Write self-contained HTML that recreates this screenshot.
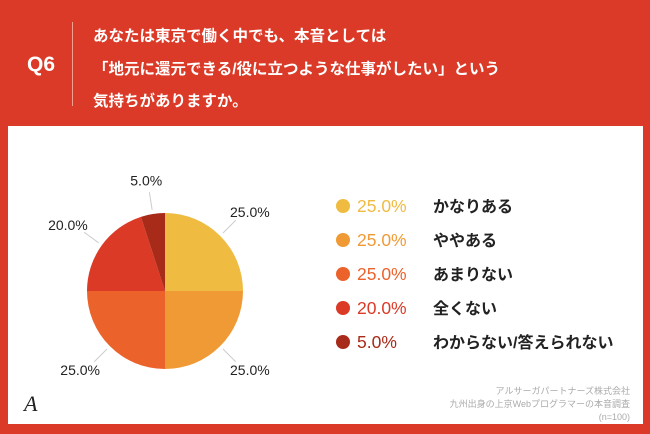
<!DOCTYPE html>
<html><head><meta charset="utf-8"><style>
body{margin:0;width:650px;height:434px;background:#da3a27;position:relative;overflow:hidden;font-family:"Liberation Sans","Noto Sans CJK JP",sans-serif}
.t{position:absolute;color:#fff}
</style></head><body>
<div class="t" style="left:27px;top:53px;font-size:21px;font-weight:bold">Q6</div>
<div style="position:absolute;left:72px;top:22px;width:1px;height:84px;background:#f1a090"></div>
<div class="t" style="left:93px;top:21px;font-size:15.5px;line-height:32.5px;font-weight:bold">あなたは東京で働く中でも、本音としては<br>「地元に還元できる/役に立つような仕事がしたい」という<br>気持ちがありますか。</div>
<div style="position:absolute;left:8px;top:126px;width:635px;height:298px;background:#fff"></div>
<svg id="c" width="650" height="434" style="position:absolute;left:0;top:0"></svg>
<div class="t" style="right:20px;top:385px;color:#aaa;font-size:9px;line-height:13px;text-align:right">アルサーガパートナーズ株式会社<br>九州出身の上京Webプログラマーの本音調査<br>(n=100)</div>
<div class="t" style="left:24px;top:391px;color:#222;font-size:22px;font-style:italic;font-family:'Liberation Serif',serif">A</div>
<script>
const categories=["かなりある","ややある","あまりない","全くない","わからない/答えられない"];
const values=[25,25,25,20,5];
const labels=["25.0%","25.0%","25.0%","20.0%","5.0%"];
const colors=["#efbb41","#f09a35","#ec622b","#da3a26","#a82a18"];
const ns="http://www.w3.org/2000/svg",svg=document.getElementById('c');
const cx=165,cy=291,r=78;
const total=values.reduce((a,b)=>a+b,0);
function mk(t,a){const e=document.createElementNS(ns,t);for(const k in a)e.setAttribute(k,a[k]);svg.appendChild(e);return e;}
let a0=0;
values.forEach((v,i)=>{
 const a1=a0+v/total*2*Math.PI;
 const p=a=>[cx+r*Math.sin(a),cy-r*Math.cos(a)];
 const [x0,y0]=p(a0),[x1,y1]=p(a1);
 const s=mk('path',{d:`M${cx},${cy}L${x0},${y0}A${r},${r} 0 ${a1-a0>Math.PI?1:0} 1 ${x1},${y1}Z`,fill:colors[i]});
 
 
 const m=(a0+a1)/2,sx=Math.sin(m),sy=-Math.cos(m);
 const l=mk('line',{x1:cx+(r+4)*sx,y1:cy+(r+4)*sy,x2:cx+(r+22)*sx,y2:cy+(r+22)*sy,stroke:'#ccc','stroke-width':1});
 
 
 const tx=mk('text',{x:cx+(r+42)*sx,y:cy+(r+34)*sy+5,'text-anchor':'middle','font-size':14,fill:'#222','font-family':'Liberation Sans, sans-serif'});
 tx.textContent=labels[i];
 
 
 const ly=206+i*34;
 const d=mk('circle',{cx:343,cy:ly,r:7,fill:colors[i]});
 
 
 const lp=mk('text',{x:357,y:ly+6,'font-size':17.5,fill:colors[i],'font-family':'Liberation Sans, sans-serif'});
 lp.textContent=labels[i];
 
 
 const lt=mk('text',{x:433,y:ly+6,'font-size':16,'font-weight':'bold',fill:'#222','font-family':'Liberation Sans, Noto Sans CJK JP, sans-serif'});
 lt.textContent=categories[i];
 
 
 a0=a1;
});
</script>
</body></html>
